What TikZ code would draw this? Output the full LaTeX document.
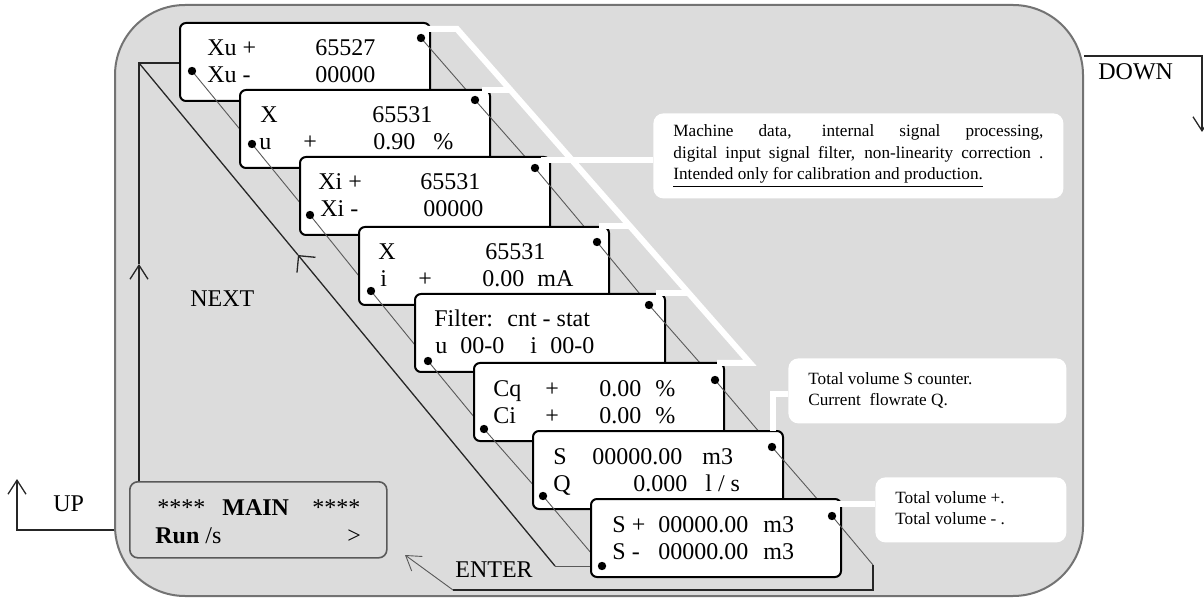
\documentclass[tikz,border=0pt]{standalone}
\usepackage{fontspec}
\setmainfont{Liberation Serif}
\usetikzlibrary{positioning, arrows.meta, calc}

\definecolor{panelgray}{HTML}{DCDCDC}
\newcommand{\lcdcol}[2]{\makebox[#1][l]{#2}}

\begin{document}
\begin{tikzpicture}[
    x=0.5pt, y=-0.5pt,
    panel/.style={draw=black!55, line width=1pt, fill=panelgray, rounded corners=35pt, inner sep=0pt},
    lcd/.style={draw=black, line width=1pt, fill=white, rounded corners=3pt, minimum width=125pt, minimum height=39pt, inner sep=0pt, anchor=north west},
    mainlcd/.style={draw=black!65, line width=0.8pt, fill=panelgray, rounded corners=4pt, minimum width=128.5pt, minimum height=38pt, inner sep=0pt, anchor=north west},
    lcdrow/.style={anchor=base west, inner sep=0pt, font=\fontsize{12}{14}\selectfont},
    keylabel/.style={anchor=base west, inner sep=0pt, font=\fontsize{12}{14}\selectfont},
    notebox/.style={fill=white, rounded corners=5pt, inner sep=0pt, anchor=north west},
    notetext/.style={anchor=base west, inner sep=0pt, font=\fontsize{8.6}{10.75}\selectfont},
    lcddot/.style={circle, fill=black, inner sep=0pt, minimum size=4.2pt},
    link/.style={draw=black!65, line width=0.45pt},
    wire/.style={draw=black!85, line width=0.65pt},
    whitewire/.style={draw=white, line width=3pt},
    barbbig/.style={-{Straight Barb[length=6pt, width=12pt]}},
    barbthin/.style={-{Straight Barb[length=7pt, width=9pt]}}
]
    \useasboundingbox (0,0) rectangle (1204,598);

    % Keypad panel
    \node[panel, minimum width=484pt, minimum height=295.5pt] (panel) at (599,300.5) {};

    % Dot positions on the displays
    \coordinate (tr1) at (421,38);  \coordinate (bl1) at (192,71);
    \coordinate (tr2) at (475,100); \coordinate (bl2) at (252,144);
    \coordinate (tr3) at (535,168); \coordinate (bl3) at (310,215);
    \coordinate (tr4) at (597,242); \coordinate (bl4) at (371,291);
    \coordinate (tr5) at (649,305); \coordinate (bl5) at (428,361);
    \coordinate (tr6) at (715,380); \coordinate (bl6) at (484,429);
    \coordinate (tr7) at (772,447); \coordinate (bl7) at (543,496);
    \coordinate (tr8) at (832,516); \coordinate (bl8) at (602,566);

    % Main display
    \node[mainlcd] (mainbox) at (129,481) {};
    \node[lcdrow] (main1) at (157,515) {\lcdcol{32.5pt}{****}\lcdcol{45pt}{\textbf{MAIN}}****};
    \node[lcdrow] (main2) at (155,543) {\lcdcol{96pt}{\textbf{Run} /s}>};

    % UP and DOWN keys
    \coordinate (upfoot) at (17,530);
    \coordinate (uptip) at (17,479);
    \draw[wire, barbthin] (panel.west |- upfoot) -- (upfoot) -- (uptip);
    \node[keylabel] (uplabel) at (53,511) {UP};
    \coordinate (downfoot) at (1202,56);
    \coordinate (downtip) at (1202,132);
    \draw[wire, barbthin] (panel.east |- downfoot) -- (downfoot) -- (downtip);
    \node[keylabel] (downlabel) at (1098,80) {DOWN};

    % NEXT loop
    \coordinate (nextcorner) at (139,63);
    \coordinate (nextbend) at (555,566);
    \coordinate (nextmark) at (298,255);
    \coordinate (upmark) at (139,264);
    \draw[wire, barbthin] (mainbox.north -| nextcorner) -- (upmark);
    \draw[wire] (upmark) -- (nextcorner) -- (nextcorner -| 179,0);
    \draw[link] (bl8) -- (nextbend);
    \draw[wire, barbbig] (nextbend) -- (nextmark);
    \draw[wire] (nextmark) -- (nextcorner);
    \node[keylabel] (nextlabel) at (190,307) {NEXT};

    % Xu display
    \node[lcd] (box1) at (179,22) {};
    \node[lcdrow] (box1a) at ($(box1.north west)+(28,34)$) {\lcdcol{54pt}{Xu +}65527};
    \node[lcdrow] (box1b) at ($(box1.north west)+(28,61)$) {\lcdcol{54pt}{Xu -}00000};
    \draw[link] (tr1) -- (tr2);
    \draw[link] (bl1) -- (bl2);

    % X / u display
    \node[lcd] (box2) at (239,89) {};
    \node[lcdrow] (box2a) at ($(box2.north west)+(21,34)$) {\lcdcol{56pt}{X}65531};
    \node[lcdrow] (box2b) at ($(box2.north west)+(20,61)$) {\lcdcol{22pt}{u}\lcdcol{35pt}{+}\lcdcol{30pt}{0.90}\%};
    \draw[link] (tr2) -- (tr3);
    \draw[link] (bl2) -- (bl3);

    % Xi display
    \node[lcd] (box3) at (299,156) {};
    \node[lcdrow] (box3a) at ($(box3.north west)+(19,34)$) {\lcdcol{51pt}{Xi +}65531};
    \node[lcdrow] (box3b) at ($(box3.north west)+(21,61)$) {\lcdcol{51.5pt}{Xi -}00000};
    \draw[link] (tr3) -- (tr4);
    \draw[link] (bl3) -- (bl4);

    % X / i display
    \node[lcd] (box4) at (358,226) {};
    \node[lcdrow] (box4a) at ($(box4.north west)+(20,34)$) {\lcdcol{53.5pt}{X}65531};
    \node[lcdrow] (box4b) at ($(box4.north west)+(22,61)$) {\lcdcol{19pt}{i}\lcdcol{32pt}{+}\lcdcol{27.5pt}{0.00}mA};
    \draw[link] (tr4) -- (tr5);
    \draw[link] (bl4) -- (bl5);

    % Filter display
    \node[lcd] (box5) at (414,293) {};
    \node[lcdrow] (box5a) at ($(box5.north west)+(20,34)$) {\lcdcol{36.5pt}{Filter:}cnt - stat};
    \node[lcdrow] (box5b) at ($(box5.north west)+(21,61)$) {\lcdcol{12.5pt}{u}\lcdcol{35pt}{00-0}\lcdcol{10pt}{i}00-0};
    \draw[link] (tr5) -- (tr6);
    \draw[link] (bl5) -- (bl6);

    % Correction display
    \node[lcd] (box6) at (473,362) {};
    \node[lcdrow] (box6a) at ($(box6.north west)+(20,34)$) {\lcdcol{26pt}{Cq}\lcdcol{27pt}{+}\lcdcol{28pt}{0.00}\%};
    \node[lcdrow] (box6b) at ($(box6.north west)+(20,61)$) {\lcdcol{26pt}{Ci}\lcdcol{27pt}{+}\lcdcol{28pt}{0.00}\%};
    \draw[link] (tr6) -- (tr7);
    \draw[link] (bl6) -- (bl7);

    % Volume / flowrate display
    \node[lcd] (box7) at (532,430) {};
    \node[lcdrow] (box7a) at ($(box7.north west)+(21,34)$) {\lcdcol{19.5pt}{S}\lcdcol{55pt}{00000.00}m3};
    \node[lcdrow] (box7b) at ($(box7.north west)+(21,61)$) {\lcdcol{40pt}{Q}\lcdcol{36pt}{0.000}l / s};
    \draw[link] (tr7) -- (tr8);
    \draw[link] (bl7) -- (bl8);

    % Totals display
    \node[lcd] (box8) at (590,498) {};
    \node[lcdrow] (box8a) at ($(box8.north west)+(22,34)$) {\lcdcol{23pt}{S +}\lcdcol{52.5pt}{00000.00}m3};
    \node[lcdrow] (box8b) at ($(box8.north west)+(22,61)$) {\lcdcol{23pt}{S -}\lcdcol{52.5pt}{00000.00}m3};

    % ENTER return
    \coordinate (enterdrop) at (873,565);
    \coordinate (enterfoot) at (873,590);
    \coordinate (enterturn) at (453,590);
    \coordinate (entertip) at (405,555);
    \draw[link] (tr8) -- (enterdrop);
    \draw[wire] (enterdrop) -- (enterfoot) -- (enterturn);
    \draw[link, barbthin] (enterturn) -- (entertip);
    \node[keylabel] (enterlabel) at (455,577) {ENTER};

    % Notes
    \node[notebox, minimum width=205pt, minimum height=42.5pt] (note1) at (653,113) {};
    \node[notetext] (note1a) at (673,137) {\makebox[185pt][s]{Machine data, internal signal processing,}};
    \node[notetext] (note1b) at (673,159) {\makebox[185pt][s]{digital input signal filter, non-linearity correction .}};
    \node[notetext] (note1c) at (673,180) {\underline{Intended only for calibration and production.}};
    \node[notebox, minimum width=139pt, minimum height=32.5pt] (note2) at (788,358) {};
    \node[notetext] (note2a) at (808,385) {Total volume S counter.};
    \node[notetext] (note2b) at (808,406) {Current\ \ flowrate Q.};
    \node[notebox, minimum width=95.5pt, minimum height=32.5pt] (note3) at (875,477) {};
    \node[notetext] (note3a) at (895,503) {Total volume +.};
    \node[notetext] (note3b) at (895,524) {Total volume - .};

    % White leaders
    \coordinate (wtop) at (457,29);
    \coordinate (wbot) at (750,363);
    \draw[whitewire] (424,29) -- (wtop) -- (wbot) -- (717,363);
    \draw[whitewire] (482,90) -- (511,90);
    \draw[whitewire] (599,226) -- (630,226);
    \draw[whitewire] (656,293) -- (689,293);
    \draw[whitewire] (541,160) -- (note1.west |- 0,160);
    \draw[whitewire] (773,431) -- (773,394) -- (note2.west |- 0,394);
    \draw[whitewire] (834,504) -- (note3.west |- 0,504);

    % Dots
    \node[lcddot] (dot1t) at (tr1) {}; \node[lcddot] (dot1b) at (bl1) {};
    \node[lcddot] (dot2t) at (tr2) {}; \node[lcddot] (dot2b) at (bl2) {};
    \node[lcddot] (dot3t) at (tr3) {}; \node[lcddot] (dot3b) at (bl3) {};
    \node[lcddot] (dot4t) at (tr4) {}; \node[lcddot] (dot4b) at (bl4) {};
    \node[lcddot] (dot5t) at (tr5) {}; \node[lcddot] (dot5b) at (bl5) {};
    \node[lcddot] (dot6t) at (tr6) {}; \node[lcddot] (dot6b) at (bl6) {};
    \node[lcddot] (dot7t) at (tr7) {}; \node[lcddot] (dot7b) at (bl7) {};
    \node[lcddot] (dot8t) at (tr8) {}; \node[lcddot] (dot8b) at (bl8) {};

\end{tikzpicture}
\end{document}
